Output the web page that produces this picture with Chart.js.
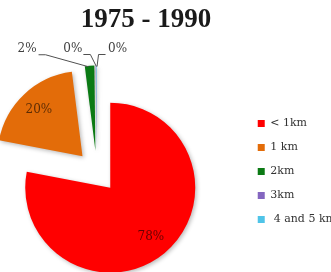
<!DOCTYPE html>
<html>
<head>
<meta charset="utf-8">
<title>1975 - 1990</title>
<script src="https://cdn.jsdelivr.net/npm/chart.js"></script>
<style>
  html, body { margin: 0; padding: 0; overflow: hidden; background: #fff; }
  #pieChart { display: block; margin-left: -51px; }
</style>
</head>
<body>
<canvas id="pieChart" width="397" height="272"></canvas>
<script>
var titleText = '1975 - 1990';
var distances = ['< 1km', '1 km', '2km', '3km', ' 4 and 5 km'];
var shares = [78, 20, 1.8, 0.1, 0.1];
var sliceColors = ['#ff0000', '#e36c09', '#0b7a14', '#8466c0', '#4fc4e8'];

var explode = 21; // how far every slice is pulled out
var shiftX = 51;  // canvas is slid left by this much (see css)
var total = shares.reduce(function (a, b) { return a + b; }, 0);

// where the small outside labels sit, relative to the slice's outer edge
var outside = [
    null,
    null,
    { tx: -53, ty: -17, align: 'right', pts: [[-51, -11], [-44, -11], [-1, 1]] },
    { tx: -13.5, ty: -17, align: 'right', pts: [[-12.5, -11], [-5.5, -11], [0.5, 1]] },
    { tx: 11.5, ty: -17, align: 'left', pts: [[9, -11], [2, -11], [0.5, 1]] }
];

function pct(i) {
    return Math.round(shares[i] / total * 100) + '%';
}

var piePlugin = {
    id: 'pieExtras',
    afterDatasetsUpdate: function (chart) {
        chart.getDatasetMeta(0).data.forEach(function (arc) {
            var mid = (arc.startAngle + arc.endAngle) / 2;
            arc.x += Math.cos(mid) * explode;
            arc.y += Math.sin(mid) * explode;
        });
    },
    beforeDatasetsDraw: function (chart) {
        var ctx = chart.ctx;
        ctx.save();
        ctx.shadowColor = 'rgba(0,0,0,0.28)';
        ctx.shadowBlur = 4;
        ctx.shadowOffsetX = 1.5;
        ctx.shadowOffsetY = 1.5;
    },
    afterDatasetsDraw: function (chart) {
        chart.ctx.restore();
    },
    afterDraw: function (chart) {
        var ctx = chart.ctx;
        ctx.save();

        // title
        ctx.fillStyle = '#1a1a1a';
        ctx.font = 'bold 27px "Liberation Serif"';
        ctx.textAlign = 'center';
        ctx.textBaseline = 'alphabetic';
        ctx.fillText(titleText, 146 + shiftX, 27);

        var arcs = chart.getDatasetMeta(0).data;
        arcs.forEach(function (arc, i) {
            var mid = (arc.startAngle + arc.endAngle) / 2;
            var c = Math.cos(mid), s = Math.sin(mid);
            var r = arc.outerRadius;
            ctx.font = '12px "DejaVu Serif"';
            ctx.textBaseline = 'middle';
            if (!outside[i]) {
                ctx.fillStyle = 'rgba(0,0,0,0.6)';
                ctx.textAlign = 'center';
                ctx.fillText(pct(i), arc.x + c * r * 0.75, arc.y + s * r * 0.75);
                return;
            }
            var o = outside[i];
            var ex = arc.x + c * r, ey = arc.y + s * r;
            ctx.strokeStyle = '#505050';
            ctx.lineWidth = 1;
            ctx.beginPath();
            o.pts.forEach(function (p, k) {
                if (k === 0) ctx.moveTo(ex + p[0], ey + p[1]);
                else ctx.lineTo(ex + p[0], ey + p[1]);
            });
            ctx.stroke();
            ctx.fillStyle = '#404040';
            ctx.textAlign = o.align;
            ctx.fillText(pct(i), ex + o.tx, ey + o.ty);
        });
        ctx.restore();
    }
};

var chart = new Chart(document.getElementById('pieChart'), {
    type: 'pie',
    data: {
        labels: distances,
        datasets: [{
            data: shares,
            backgroundColor: sliceColors,
            borderWidth: 0,
            radius: 85,
            clip: false
        }]
    },
    options: {
        responsive: false,
        animation: false,
        layout: { padding: { left: 0, top: 71, right: 0, bottom: 0 } },
        plugins: {
            title: { display: false },
            tooltip: { enabled: false },
            legend: {
                position: 'right',
                labels: {
                    boxWidth: 7,
                    boxHeight: 7,
                    padding: 13,
                    color: '#333333',
                    font: { family: 'DejaVu Serif', size: 11 }
                }
            }
        }
    },
    plugins: [piePlugin]
});
</script>
</body>
</html>
